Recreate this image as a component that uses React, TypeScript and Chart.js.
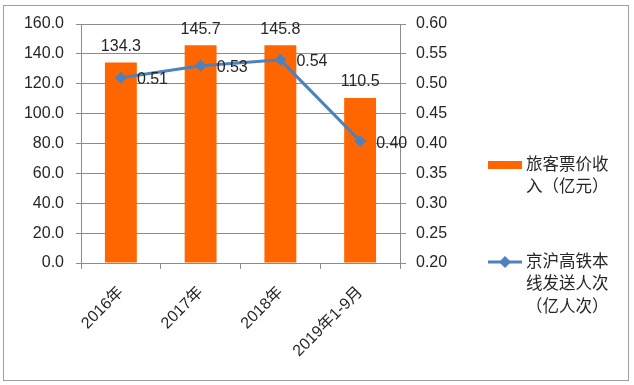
import React, { useEffect, useRef } from 'react';
import { Chart, registerables } from 'chart.js';
Chart.register(...registerables);

const categories = ['2016年', '2017年', '2018年', '2019年1-9月'];
const revenue = [134.3, 145.7, 145.8, 110.5];
const passengers = [0.51, 0.53, 0.54, 0.404];
const passengerLabels = ['0.51', '0.53', '0.54', '0.40'];
const revenueLegend = ['旅客票价收', '入（亿元）'];
const passengersLegend = ['京沪高铁本', '线发送人次', '（亿人次）'];
const leftTicks = { min: 0, max: 160, step: 20 };
const rightTicks = { min: 0.2, max: 0.6, step: 0.05 };

const ORANGE = '#FF6600';
const BLUE = '#4F81BD';
const TEXT = '#262626';
const GRID = '#8C8C8C';
const FONT_FAMILY = '"Liberation Sans", "Noto Sans CJK SC", sans-serif';

const decorPlugin = {
  id: 'decor',
  beforeDraw(chart: any) {
    const ctx = chart.ctx;
    ctx.save();
    ctx.fillStyle = '#ffffff';
    ctx.fillRect(0, 0, chart.width, chart.height);
    ctx.strokeStyle = '#A0A0A0';
    ctx.lineWidth = 1;
    ctx.strokeRect(3.5, 5.5, 625, 375);
    ctx.restore();
  },
  afterDatasetsDraw(chart: any) {
    const ctx = chart.ctx;
    ctx.save();
    ctx.font = '16px ' + FONT_FAMILY;
    ctx.fillStyle = TEXT;
    const barMeta = chart.getDatasetMeta(0);
    ctx.textAlign = 'center';
    ctx.textBaseline = 'middle';
    barMeta.data.forEach((el: any, i: number) => {
      ctx.fillText(revenue[i].toFixed(1), el.x, el.y - 16);
    });
    const lineMeta = chart.getDatasetMeta(1);
    ctx.textAlign = 'left';
    lineMeta.data.forEach((el: any, i: number) => {
      ctx.fillText(passengerLabels[i], el.x + 16, el.y + 2);
    });
    ctx.restore();
  },
  afterDraw(chart: any) {
    const ctx = chart.ctx;
    ctx.save();
    ctx.font = '16.5px ' + FONT_FAMILY;
    ctx.fillStyle = TEXT;
    ctx.textAlign = 'left';
    ctx.textBaseline = 'middle';
    // legend item 1
    ctx.fillStyle = ORANGE;
    ctx.fillRect(488, 161, 34, 8);
    ctx.fillStyle = TEXT;
    revenueLegend.forEach((t, i) => ctx.fillText(t, 526, 165 + i * 22));
    // legend item 2
    ctx.strokeStyle = BLUE;
    ctx.lineWidth = 3;
    ctx.beginPath();
    ctx.moveTo(488, 262);
    ctx.lineTo(522, 262);
    ctx.stroke();
    ctx.fillStyle = BLUE;
    ctx.beginPath();
    ctx.moveTo(505, 256);
    ctx.lineTo(511, 262);
    ctx.lineTo(505, 268);
    ctx.lineTo(499, 262);
    ctx.closePath();
    ctx.fill();
    ctx.fillStyle = TEXT;
    passengersLegend.forEach((t, i) => ctx.fillText(t, 526, 262 + i * 22.5));
    ctx.restore();
  },
};

export default function App() {
  const ref = useRef<HTMLCanvasElement | null>(null);
  useEffect(() => {
    if (!ref.current) return;
    const font = { family: FONT_FAMILY, size: 16 };
    const chart = new Chart(ref.current, {
      type: 'bar',
      data: {
        labels: categories,
        datasets: [
          {
            type: 'bar',
            label: revenueLegend.join(''),
            data: revenue,
            backgroundColor: ORANGE,
            barPercentage: 0.4,
            categoryPercentage: 1,
            yAxisID: 'y',
            order: 1,
          },
          {
            type: 'line',
            label: passengersLegend.join(''),
            data: passengers,
            borderColor: BLUE,
            backgroundColor: BLUE,
            borderWidth: 3,
            pointStyle: 'rectRot',
            pointRadius: 6,
            pointBackgroundColor: BLUE,
            pointBorderColor: BLUE,
            pointBorderWidth: 0,
            tension: 0,
            yAxisID: 'y1',
            order: 0,
          } as any,
        ],
      },
      options: {
        responsive: false,
        animation: false,
        devicePixelRatio: 1,
        layout: { padding: { top: 24, left: 0, right: 184, bottom: 0 } },
        plugins: { legend: { display: false }, tooltip: { enabled: false } },
        scales: {
          x: {
            grid: { display: true, drawOnChartArea: false, offset: true, tickLength: 6, color: GRID },
            border: { color: GRID },
            ticks: { minRotation: 45, maxRotation: 45, font, color: TEXT, padding: 14 },
            afterFit: (s: any) => { s.height = 122; },
          },
          y: {
            position: 'left',
            min: leftTicks.min,
            max: leftTicks.max,
            ticks: { stepSize: leftTicks.step, font, color: TEXT, padding: 12, callback: (v: any) => Number(v).toFixed(1) },
            grid: { color: GRID, tickLength: 5 },
            border: { color: GRID },
            afterFit: (s: any) => { s.width = 81; },
          },
          y1: {
            position: 'right',
            min: rightTicks.min,
            max: rightTicks.max,
            ticks: { stepSize: rightTicks.step, font, color: TEXT, padding: 10, callback: (v: any) => Number(v).toFixed(2) },
            grid: { drawOnChartArea: false, color: GRID, tickLength: 6 },
            border: { color: GRID },
            afterFit: (s: any) => { s.width = 50; },
          },
        },
      } as any,
      plugins: [decorPlugin],
    });
    return () => chart.destroy();
  }, []);
  return (
    <div style={{ position: 'absolute', left: 0, top: 0, width: 634, height: 385 }}>
      <canvas ref={ref} width={634} height={385} style={{ display: 'block' }} />
    </div>
  );
}
